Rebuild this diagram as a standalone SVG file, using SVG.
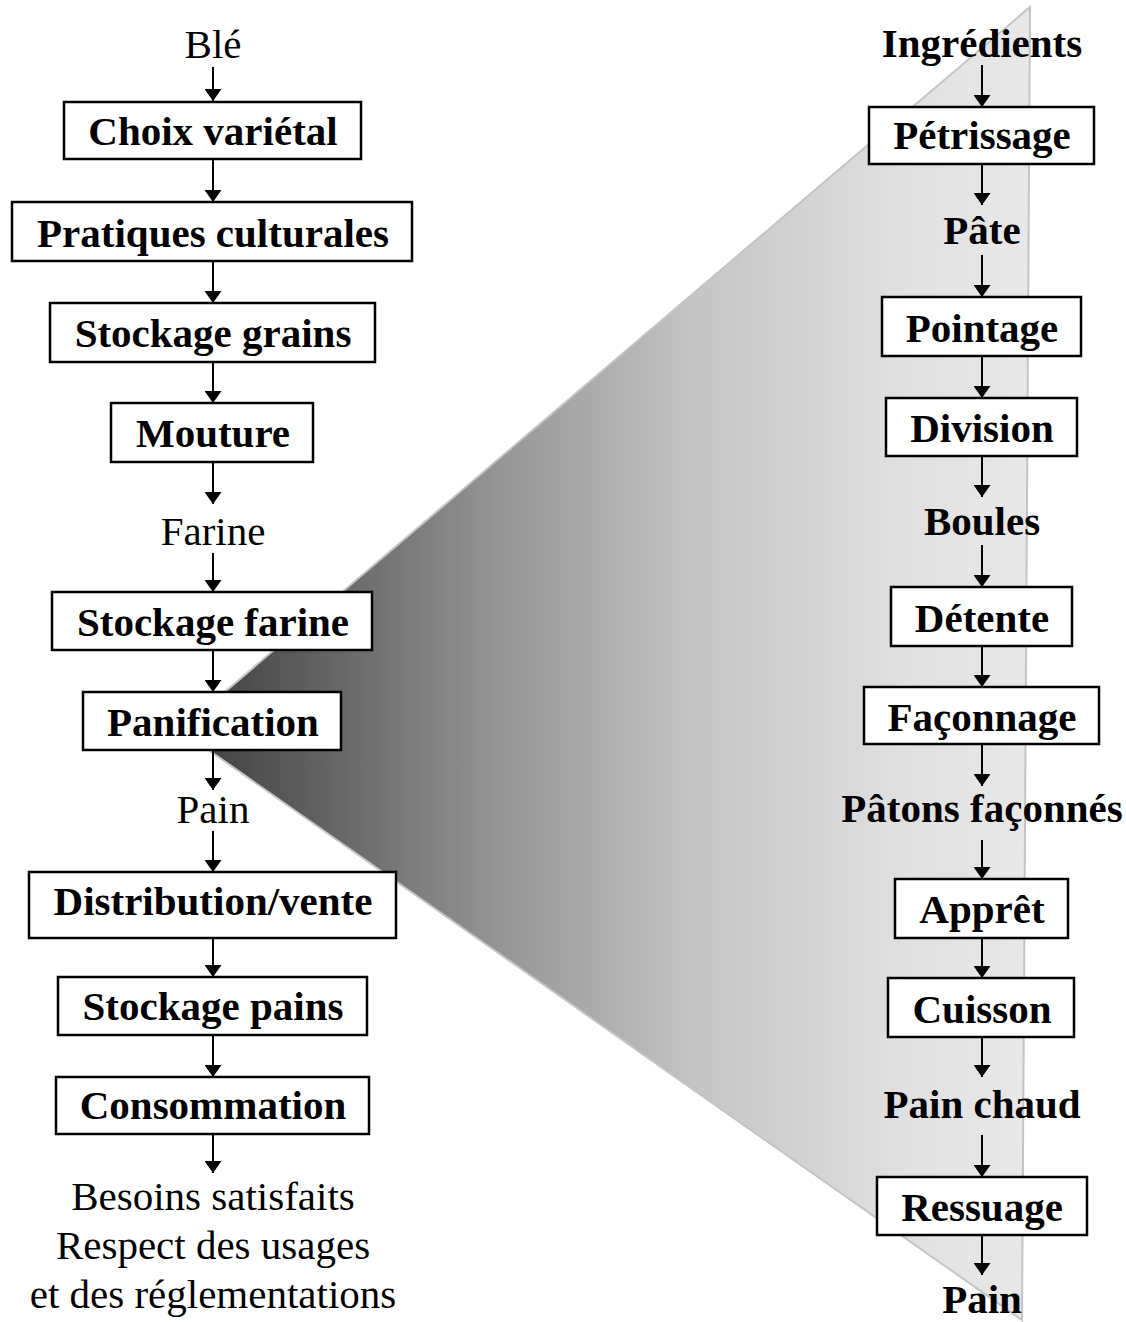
<svg xmlns="http://www.w3.org/2000/svg" width="1126" height="1322" viewBox="0 0 1126 1322">
<style>
.box{fill:#fff;stroke:#000;stroke-width:2.5}
.b{font-family:"Liberation Serif","Times New Roman",serif;font-weight:bold;font-size:41px;text-anchor:middle;fill:#000}
.r{font-family:"Liberation Serif","Times New Roman",serif;font-size:41px;text-anchor:middle;fill:#000}
.c{stroke:#000;stroke-width:2;fill:none;marker-end:url(#ah)}
</style>
<defs>
<linearGradient id="g" gradientUnits="userSpaceOnUse" x1="180" y1="0" x2="1030" y2="0">
<stop offset="0" stop-color="#3c3c3c"/>
<stop offset="0.141" stop-color="#5c5c5c"/>
<stop offset="0.376" stop-color="#959595"/>
<stop offset="0.612" stop-color="#c5c5c5"/>
<stop offset="0.847" stop-color="#e0e0e0"/>
<stop offset="1" stop-color="#e8e8e8"/>
</linearGradient>
<marker id="ah" markerUnits="userSpaceOnUse" viewBox="0 0 12 17" markerWidth="12" markerHeight="17" refX="12" refY="8.5" orient="auto">
<path d="M0,0 L12,8.5 L0,17 z" fill="#000"/>
</marker>
</defs>
<rect width="1126" height="1322" fill="#fff"/>
<polygon id="triangle" points="180,730 1030,7 1022,1320" fill="url(#g)" stroke="#c4c4c4" stroke-width="2"/>
<g id="connectors">
<line class="c" x1="213" y1="67" x2="213" y2="101"/>
<line class="c" x1="213" y1="159" x2="213" y2="202"/>
<line class="c" x1="213" y1="261" x2="213" y2="303"/>
<line class="c" x1="213" y1="362" x2="213" y2="403"/>
<line class="c" x1="213" y1="462" x2="213" y2="504"/>
<line class="c" x1="213" y1="553" x2="213" y2="592"/>
<line class="c" x1="213" y1="650" x2="213" y2="692"/>
<line class="c" x1="213" y1="750" x2="213" y2="790"/>
<line class="c" x1="213" y1="831" x2="213" y2="872"/>
<line class="c" x1="213" y1="938" x2="213" y2="977"/>
<line class="c" x1="213" y1="1035" x2="213" y2="1077"/>
<line class="c" x1="213" y1="1134" x2="213" y2="1173"/>
<line class="c" x1="982" y1="65" x2="982" y2="107"/>
<line class="c" x1="982" y1="164" x2="982" y2="205"/>
<line class="c" x1="982" y1="255" x2="982" y2="297"/>
<line class="c" x1="982" y1="356" x2="982" y2="398"/>
<line class="c" x1="982" y1="456" x2="982" y2="497"/>
<line class="c" x1="982" y1="545" x2="982" y2="587"/>
<line class="c" x1="982" y1="646" x2="982" y2="687"/>
<line class="c" x1="982" y1="744" x2="982" y2="786"/>
<line class="c" x1="982" y1="840" x2="982" y2="879"/>
<line class="c" x1="982" y1="938" x2="982" y2="978"/>
<line class="c" x1="982" y1="1037" x2="982" y2="1077"/>
<line class="c" x1="982" y1="1135" x2="982" y2="1177"/>
<line class="c" x1="982" y1="1235" x2="982" y2="1275"/>
</g>
<g id="ble"><text class="r" x="213" y="58">Blé</text></g>
<g id="choix"><rect class="box" x="64" y="102" width="297" height="57"/><text class="b" x="213" y="145">Choix variétal</text></g>
<g id="pratiques"><rect class="box" x="12" y="202" width="400" height="59"/><text class="b" x="213" y="247">Pratiques culturales</text></g>
<g id="stockage-grains"><rect class="box" x="50" y="303" width="325" height="59"/><text class="b" x="213" y="347">Stockage grains</text></g>
<g id="mouture"><rect class="box" x="111" y="403" width="202" height="59"/><text class="b" x="213" y="447">Mouture</text></g>
<g id="farine"><text class="r" x="213" y="545">Farine</text></g>
<g id="stockage-farine"><rect class="box" x="52" y="592" width="320" height="58"/><text class="b" x="213" y="636">Stockage farine</text></g>
<g id="panification"><rect class="box" x="83" y="692" width="258" height="58"/><text class="b" x="213" y="736">Panification</text></g>
<g id="pain-left"><text class="r" x="213" y="823">Pain</text></g>
<g id="distribution"><rect class="box" x="29" y="872" width="367" height="66"/><text class="b" x="213" y="915">Distribution/vente</text></g>
<g id="stockage-pains"><rect class="box" x="58" y="977" width="309" height="58"/><text class="b" x="213" y="1020">Stockage pains</text></g>
<g id="consommation"><rect class="box" x="56" y="1077" width="313" height="57"/><text class="b" x="213" y="1119">Consommation</text></g>
<g id="besoins"><text class="r" x="213" y="1210">Besoins satisfaits</text><text class="r" x="213" y="1259">Respect des usages</text><text class="r" x="213" y="1308">et des réglementations</text></g>
<g id="ingredients"><text class="b" x="982" y="57">Ingrédients</text></g>
<g id="petrissage"><rect class="box" x="869" y="107" width="225" height="57"/><text class="b" x="982" y="149">Pétrissage</text></g>
<g id="pate"><text class="b" x="982" y="244">Pâte</text></g>
<g id="pointage"><rect class="box" x="882" y="297" width="199" height="59"/><text class="b" x="982" y="342">Pointage</text></g>
<g id="division"><rect class="box" x="886" y="398" width="191" height="58"/><text class="b" x="982" y="442">Division</text></g>
<g id="boules"><text class="b" x="982" y="535">Boules</text></g>
<g id="detente"><rect class="box" x="891" y="587" width="181" height="59"/><text class="b" x="982" y="632">Détente</text></g>
<g id="faconnage"><rect class="box" x="864" y="687" width="235" height="57"/><text class="b" x="982" y="731">Façonnage</text></g>
<g id="patons"><text class="b" x="982" y="822">Pâtons façonnés</text></g>
<g id="appret"><rect class="box" x="895" y="879" width="173" height="59"/><text class="b" x="982" y="923">Apprêt</text></g>
<g id="cuisson"><rect class="box" x="888" y="978" width="186" height="59"/><text class="b" x="982" y="1023">Cuisson</text></g>
<g id="pain-chaud"><text class="b" x="982" y="1118">Pain chaud</text></g>
<g id="ressuage"><rect class="box" x="877" y="1177" width="210" height="58"/><text class="b" x="982" y="1221">Ressuage</text></g>
<g id="pain-right"><text class="b" x="982" y="1313">Pain</text></g>
</svg>
